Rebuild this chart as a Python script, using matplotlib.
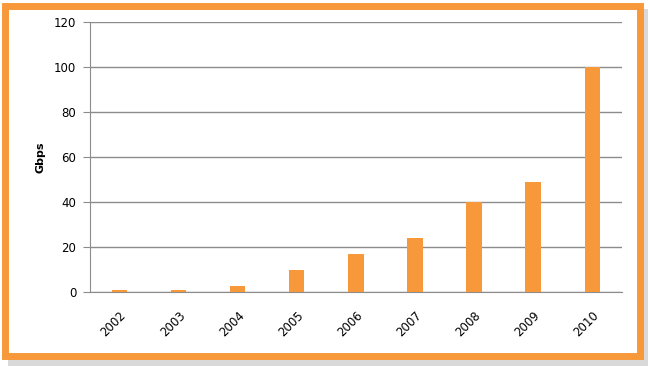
import matplotlib.pyplot as plt
from matplotlib.patches import Rectangle

years = ['2002', '2003', '2004', '2005', '2006', '2007', '2008', '2009', '2010']
gbps = [1, 1, 2.5, 10, 17, 24, 40, 49, 100]

orange = '#F7993A'
grid_c = '#8C8C8C'

fig = plt.figure(figsize=(6.5, 3.66), dpi=100)
fig.patch.set_facecolor('white')

# frame with a soft shadow
fig.patches.append(Rectangle((0.012, 0.0), 0.985, 0.975, transform=fig.transFigure,
                             facecolor='#d9d9d9', edgecolor='none', zorder=-2))
fig.patches.append(Rectangle((0.008, 0.028), 0.977, 0.955, transform=fig.transFigure,
                             facecolor='white', edgecolor=orange, linewidth=5, zorder=-1))

ax = fig.add_axes([0.1385, 0.202, 0.818, 0.738])
ax.set_facecolor('none')
x = range(len(years))
ax.bar(x, gbps, width=0.26, color=orange, zorder=3)

ax.set_ylim(0, 120)
ax.set_yticks(range(0, 121, 20))
ax.set_xlim(-0.5, len(years) - 0.5)
ax.set_xticks(list(x))
ax.set_xticklabels(years, rotation=45, ha='right', rotation_mode='anchor')
ax.tick_params(axis='x', length=0, pad=12, labelsize=8.5)
ax.tick_params(axis='y', length=5, color=grid_c, labelsize=8.5, pad=5)
ax.yaxis.grid(True, color=grid_c, linewidth=1)
ax.set_axisbelow(True)

for s in ['top', 'right']:
    ax.spines[s].set_visible(False)
ax.spines['left'].set_color(grid_c)
ax.spines['bottom'].set_color(grid_c)

ax.set_ylabel('Gbps', fontsize=8, fontweight='bold', labelpad=6)

fig.savefig('out.png', dpi=100)
